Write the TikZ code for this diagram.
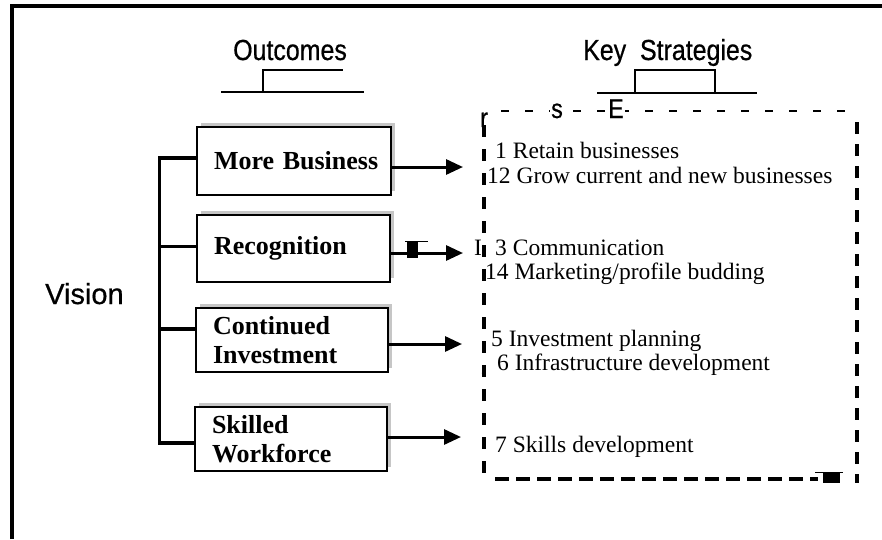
\documentclass[tikz,border=0pt]{standalone}
\usepackage{fontspec}
\setmainfont{Liberation Serif}
\newfontfamily\hfont[FakeStretch=0.86,FakeBold=0.6]{Liberation Sans}
\newfontfamily\vfont[FakeBold=0.6]{Liberation Sans}
\newfontfamily\sfont[WordSpace=1.8]{Liberation Serif}
\newfontfamily\bxfont{Liberation Serif}
\usetikzlibrary{arrows.meta,shadows}
\begin{document}
\begin{tikzpicture}[x=1pt,y=-1pt,
  outbox/.style={draw, line width=1.7pt, fill=white, font=\bxfont\bfseries\fontsize{26}{28.5}\selectfont,
    align=left, inner xsep=17pt, inner ysep=2pt,
    general shadow={fill=gray!45, shadow xshift=4pt, shadow yshift=4pt}},
  conn/.style={line width=3.2pt},
  arr/.style={line width=3pt, -{Triangle[length=17pt,width=15pt]}},
  strat/.style={anchor=base west, font=\sfont\fontsize{23.5}{26}\selectfont, inner sep=0pt},
  head/.style={anchor=base west, font=\hfont\fontsize{29}{31}\selectfont, inner sep=0pt},
  brk/.style={line width=1.5pt},
  ocrmark/.style={anchor=base west, font=\hfont\fontsize{27}{28}\selectfont, inner sep=1pt, fill=white}
]
\useasboundingbox (0,0) rectangle (882,539);
% frame
\draw[line width=4pt] (12,539) -- (12,6) -- (882,6);

% headings
\node[head] (hout) at (233,60) {Outcomes};
\node[head] (hkey) at (583,60) {Key\ \ Strategies};
\node[head, font=\vfont\fontsize{29}{32}\selectfont] (vis) at (45,304) {Vision};

% heading brackets
\draw[brk] (221,92) -- (364,92) (263,92) -- (263,70) -- (343,70);
\draw[brk] (597,93) -- (757,93) (635,93) -- (635,70) -- (715,70) -- (715,93);

% outcome boxes
\node[outbox, text width=160pt, minimum height=68pt] (mb) at (294,161) {\mbox{More Business}};
\node[outbox, text width=159pt, minimum height=67pt] (rec) at (293.5,248.5) {Recognition};
\node[outbox, text width=158pt, minimum height=64pt] (ci) at (292,340) {Continued\\Investment};
\node[outbox, text width=158pt, minimum height=64pt] (sw) at (291,439) {Skilled\\Workforce};

% spine from Vision
\draw[conn] ([yshift=3pt]mb.west) -- ++(-37,0) coordinate (st) |- ([yshift=-4pt]sw.west);
\coordinate (c2) at ([yshift=2pt]rec.west);
\coordinate (c3) at ([yshift=11pt]ci.west);
\draw[conn] (c2 -| st) -- (c2);
\draw[conn] (c3 -| st) -- (c3);

% arrows to strategies
\coordinate (e1) at (463,167);
\coordinate (e2) at (463,253);
\coordinate (e3) at (462,344);
\coordinate (e4) at (461,437);
\draw[arr] (mb.east |- e1) -- (e1);
\draw[arr] (rec.east |- e2) -- (e2);
\draw[arr] (ci.east |- e3) -- (e3);
\draw[arr] (sw.east |- e4) -- (e4);
\fill (407,241) rectangle (418,258);
\draw[line width=1pt] (405,241) -- (428,241);

% dashed strategies box
\draw[line width=2.8pt, dash pattern=on 8pt off 16pt] (501,111) -- (856,111);
\node[ocrmark, fill=none] (mr) at (479,127) {r};
\node[ocrmark] (ms) at (550,118) {s};
\node[ocrmark] (me) at (607,118) {E};
\draw[line width=3.2pt, dash pattern=on 12pt off 12pt] (484,125) -- (484,480);
\draw[line width=3.2pt, dash pattern=on 12pt off 10pt] (857,122) -- (857,483);
\draw[line width=3.2pt, dash pattern=on 14pt off 7pt] (495,479) -- (818,479);
\fill (823,473) rectangle (840,483);
\draw[line width=1pt] (815,472) -- (843,472);

% strategies
\node[strat] (s1) at (495,158) {1 Retain businesses};
\node[strat] (s2) at (487,183) {12 Grow current and new businesses};
\node[strat] (s3a) at (474,255) {I};
\node[strat] (s3) at (495,255) {3 Communication};
\node[strat] (s4) at (485,279) {14 Marketing/profile budding};
\node[strat] (s5) at (491,346) {5 Investment planning};
\node[strat] (s6a) at (481,370) {,};
\node[strat] (s6) at (497,370) {6 Infrastructure development};
\node[strat] (s7) at (495,452) {7 Skills development};
\end{tikzpicture}
\end{document}
